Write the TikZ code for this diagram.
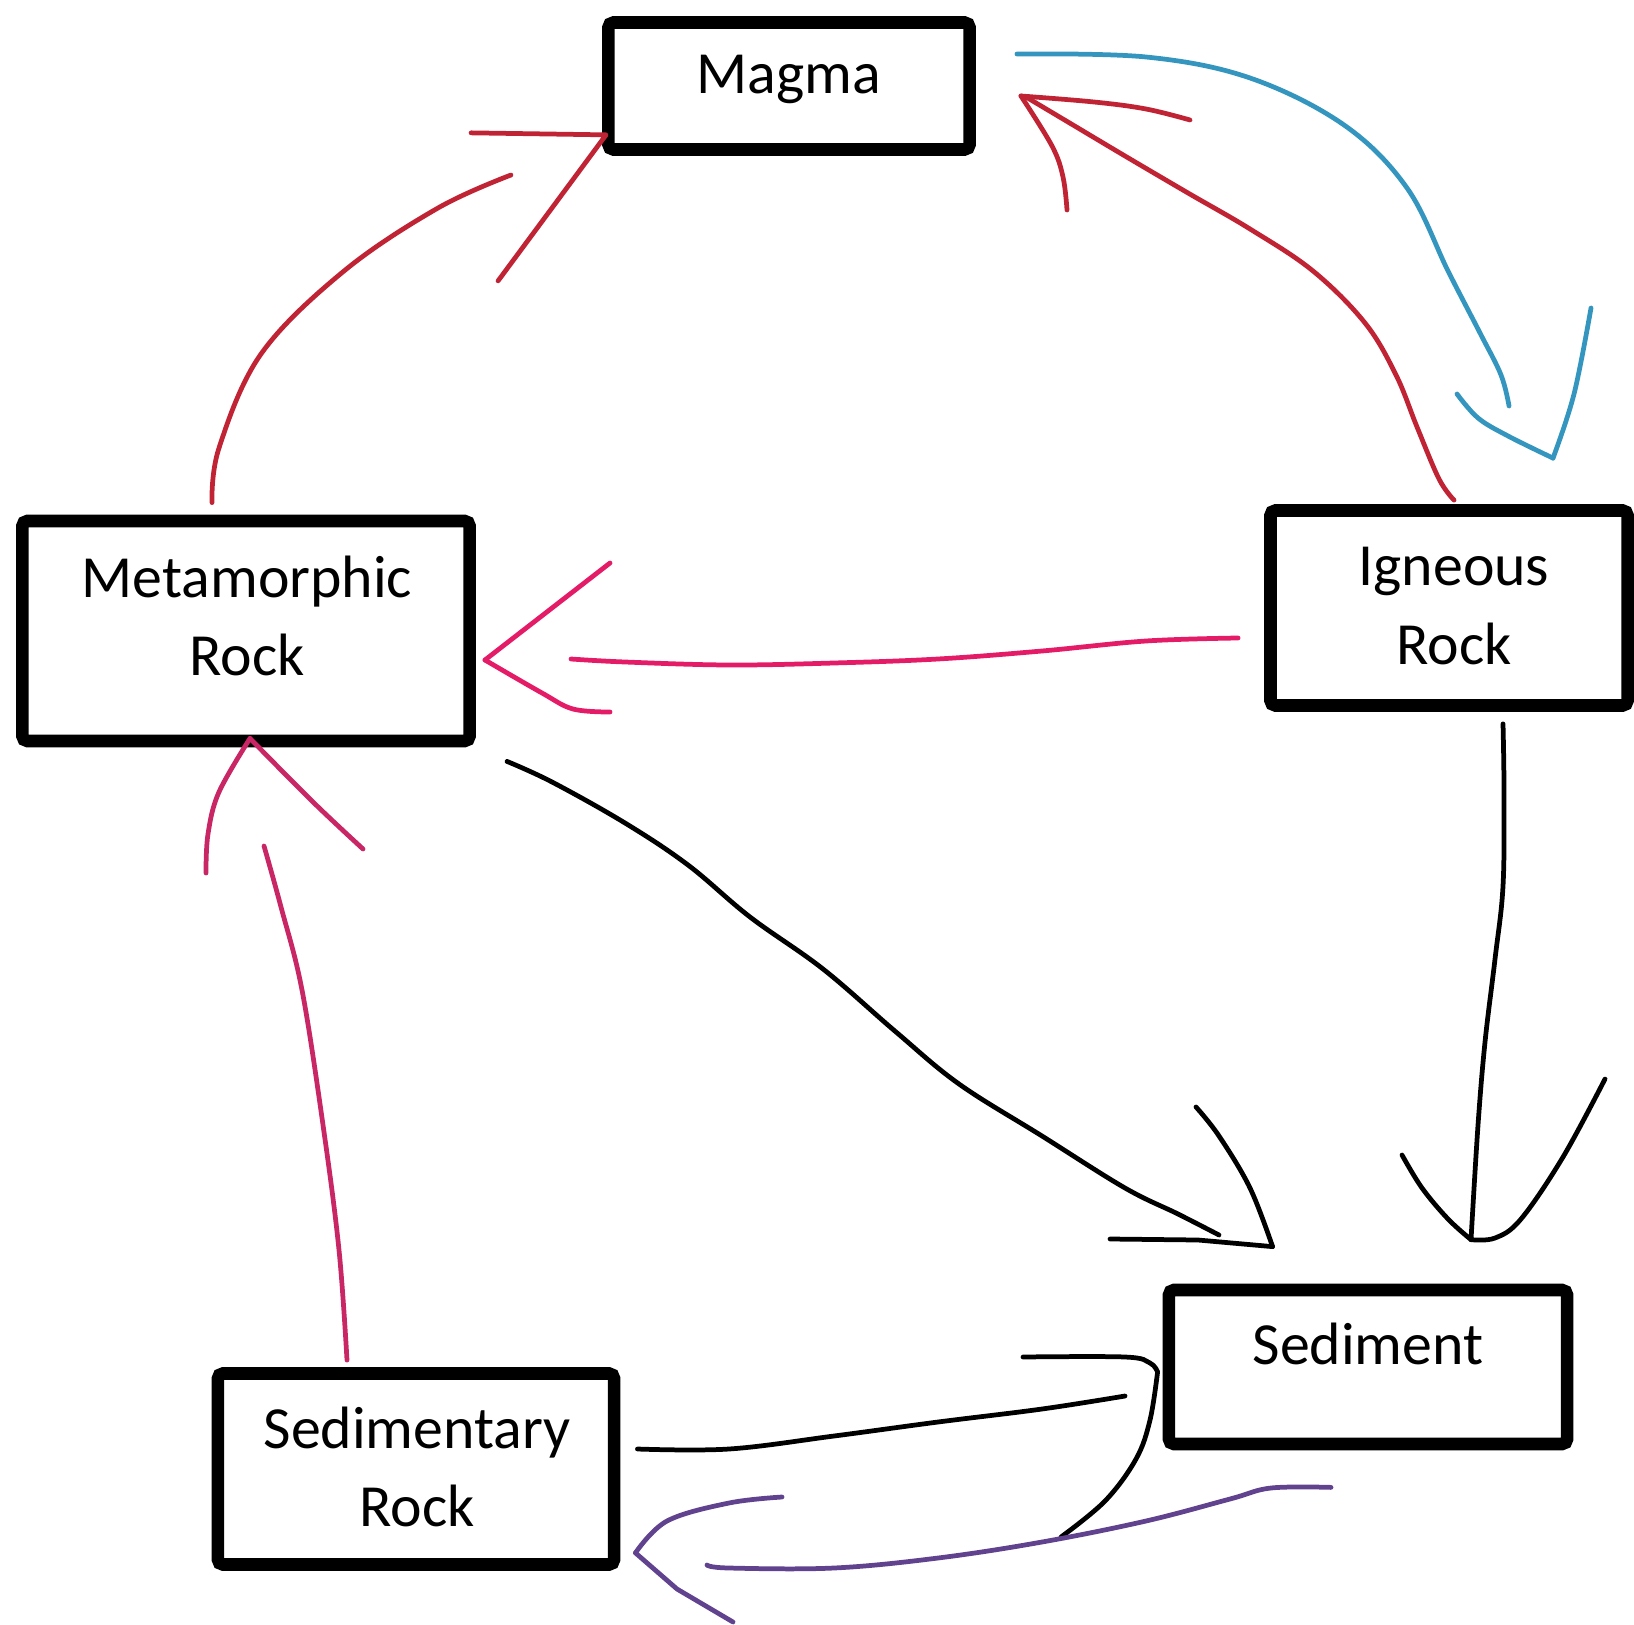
\documentclass[tikz,border=0pt]{standalone}
\usepackage{fontspec}
\setmainfont{Carlito}
\usetikzlibrary{calc}
\definecolor{redpen}{RGB}{192,36,52}
\definecolor{bluepen}{RGB}{52,150,190}
\definecolor{pinkpen}{RGB}{228,28,104}
\definecolor{rosepen}{RGB}{200,38,100}
\definecolor{purplepen}{RGB}{96,66,142}
\begin{document}
\begin{tikzpicture}[x=0.01cm, y=-0.01cm,
            box/.style = {draw, line width=3.6pt, rounded corners=1.5pt, fill=white},
            lbl/.style = {font=\fontsize{17}{22.2}\selectfont, align=center, inner sep=0pt},
            pen/.style = {line width=1.35pt, line cap=round, line join=round},
            shaft/.style = {pen, smooth, tension=0.6}]
            \useasboundingbox (0,0) rectangle (1634,1625);
            \node[box, minimum width=3.61cm, minimum height=1.27cm](magma) at (789,86) {};
            \node[box, minimum width=4.47cm, minimum height=2.20cm](meta) at (246,631) {};
            \node[box, minimum width=3.57cm, minimum height=1.95cm](igneous) at (1449,608) {};
            \node[box, minimum width=3.98cm, minimum height=1.54cm](sediment) at (1368,1367) {};
            \node[box, minimum width=3.96cm, minimum height=1.91cm](sedrock) at (416,1469) {};
            \node[lbl, anchor=base](magma-t) at (789,94) {Magma};
            \node[lbl](meta-t) at (247,616) {Metamorphic\\Rock};
            \node[lbl](igneous-t) at (1454,606) {Igneous\\Rock};
            \node[lbl, anchor=base](sediment-t) at (1368,1364) {Sediment};
            \node[lbl](sedrock-t) at (417,1467) {Sedimentary\\Rock};
            \coordinate (tipA) at ($(magma.south west)+(4,-21)$);
            \coordinate (tipB) at ($(igneous.north)+(104,-46)$);
            \coordinate (tipC) at ($(magma.east)+(45,10)$);
            \coordinate (tipD) at ($(meta.east)+(9,29)$);
            \coordinate (tipE) at ($(meta.south)+(4,-9)$);
            \coordinate (tipF) at ($(sediment.north west)+(110,-37)$);
            \coordinate (tipG) at ($(sediment.north)+(103,-44)$);
            \coordinate (tipH) at ($(sediment.west)+(-5,5)$);
            \coordinate (tipI) at ($(sedrock.south east)+(15,-18)$);
            % metamorphic to magma
            \draw[shaft, redpen] plot coordinates {($(meta.north)+(-34,-12)$) (219,448) (261,354) (344,271) (438,208) (511,175)};
            \draw[pen, redpen] (tipA) ++(-135,-2) -- (tipA) -- ++(-108,146);
            % magma to igneous
            \draw[shaft, bluepen] plot coordinates {($(magma.east)+(41,-32)$) (1146,57) (1250,78) (1344,125) (1407,188) (1448,271) (1480,333) (1501,375) (1509,406)};
            \draw[shaft, bluepen] plot coordinates {(1457,394) (1478,418) (1508,436) (tipB)};
            \draw[shaft, bluepen] plot coordinates {(tipB) (1574,394) (1591,308)};
            % igneous to magma
            \draw[shaft, redpen] plot coordinates {($(igneous.north)+(5,-4)$) (1439,479) (1417,427) (1396,375) (1365,323) (1313,271) (1250,229) (1188,193) (1125,156) (1073,125) (1026,97)};
            \draw[shaft, redpen] plot coordinates {(1190,120) (1146,109) (1094,102) (tipC)};
            \draw[shaft, redpen] plot coordinates {(tipC) (1052,146) (1063,177) (1067,210)};
            % igneous to metamorphic
            \draw[shaft, pinkpen] plot coordinates {($(igneous.west)+(-26,30)$) (1146,641) (1042,651) (938,659) (834,663) (729,665) (625,662) (571,659)};
            \draw[pen, pinkpen] (610,563) -- (tipD);
            \draw[shaft, pinkpen] plot coordinates {(tipD) (542,693) (573,709) (610,712)};
            % sedimentary rock to metamorphic
            \draw[shaft, rosepen] plot coordinates {($(sedrock.north)+(-69,-7)$) (339,1250) (323,1125) (302,990) (281,907) (264,846)};
            \draw[shaft, rosepen] plot coordinates {(206,873) (208,834) (219,792) (tipE)};
            \draw[shaft, rosepen] plot coordinates {(tipE) (313,802) (363,849)};
            % metamorphic to sediment
            \draw[shaft, black] plot coordinates {($(meta.south east)+(31,14)$) (552,782) (625,823) (688,865) (750,917) (823,969) (896,1032) (959,1084) (1042,1136) (1125,1188) (1178,1214) (1219,1235)};
            \draw[shaft, black] plot coordinates {(1196,1107) (1219,1136) (1250,1188) (tipF)};
            \draw[pen, black] (tipF) -- (1198,1240) -- (1110,1239);
            % igneous to sediment
            \draw[shaft, black] plot coordinates {($(igneous.south)+(54,12)$) (1504,792) (1503,886) (1495,959) (1485,1042) (1478,1125) (tipG)};
            \draw[shaft, black] plot coordinates {(1402,1155) (1422,1188) (1448,1219) (tipG)};
            \draw[shaft, black] plot coordinates {(tipG) (1495,1238) (1521,1219) (1563,1157) (1605,1079)};
            % sedimentary rock to sediment
            \draw[shaft, black] plot coordinates {($(sedrock.east)+(17,-20)$) (729,1449) (834,1436) (938,1422) (1042,1409) (1125,1396)};
            \draw[shaft, black] plot coordinates {(1023,1357) (1125,1357) (1150,1363) (tipH)};
            \draw[shaft, black] plot coordinates {(tipH) (1150,1420) (1136,1459) (1105,1501) (1061,1537)};
            % sediment to sedimentary rock
            \draw[shaft, purplepen] plot coordinates {($(sediment.south)+(-37,37)$) (1271,1488) (1230,1499) (1146,1521) (1042,1542) (938,1558) (834,1568) (729,1568) (707,1565)};
            \draw[shaft, purplepen] plot coordinates {(782,1497) (729,1503) (667,1521) (tipI)};
            \draw[pen, purplepen] (tipI) -- (677,1589) -- (733,1622);
\end{tikzpicture}
\end{document}
